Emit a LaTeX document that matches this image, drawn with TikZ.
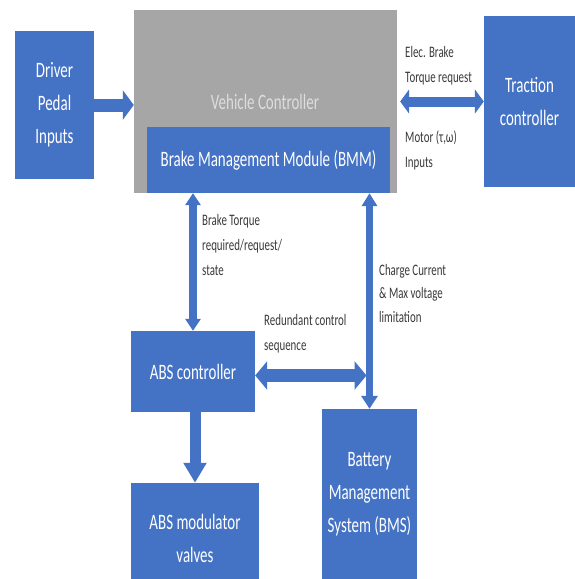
\documentclass[tikz,border=0pt]{standalone}
\usepackage{fontspec}
\setmainfont[FakeStretch=0.68]{Carlito}
\usetikzlibrary{arrows.meta}
\definecolor{boxblue}{HTML}{4472C4}
\definecolor{vcgrey}{HTML}{A6A6A6}
\definecolor{vctext}{HTML}{DDDDDD}
\definecolor{lbl}{HTML}{3A3A3A}
\tikzset{
  bluebox/.style={fill=boxblue, draw=none, text=white, align=center, inner sep=0pt,
    font=\fontsize{22}{33}\selectfont},
  lab/.style={text=lbl, align=left, inner sep=0pt, anchor=west,
    font=\fontsize{16}{25}\selectfont},
  blockarrow/.style={draw=boxblue, line width=#1},
}
\begin{document}
\begin{tikzpicture}[x=1pt,y=-1pt]
\useasboundingbox (0,0) rectangle (575,579);
\fill[white] (0,0) rectangle (575,579);
% boxes
\node[bluebox, minimum width=79pt, minimum height=148pt] (driver) at (54.5,105) {Driver\\Pedal\\Inputs};
\node[fill=vcgrey, draw=none, minimum width=263pt, minimum height=183pt, inner sep=0pt] (vc) at (265.5,101.5) {};
\node[text=vctext, font=\fontsize{22}{24}\selectfont, inner sep=0pt] (vctitle) at (265,102) {Vehicle Controller};
\node[bluebox, minimum width=243pt, minimum height=66pt] (bmm) at (268.5,160) {Brake Management Module (BMM)};
\node[bluebox, minimum width=91pt, minimum height=171pt] (traction) at (529.5,101.5) {Traction\\controller};
\node[bluebox, minimum width=124pt, minimum height=81pt] (abs) at (193,371.5) {ABS controller};
\node[bluebox, minimum width=128pt, minimum height=110pt] (mod) at (195,538) {ABS modulator\\valves};
\node[bluebox, minimum width=95pt, minimum height=170pt] (bms) at (369.5,494) {Battery\\Management\\System (BMS)};
% connectors
\draw[blockarrow=13pt, -{Triangle[length=11pt, width=29pt]}] (driver.east) -- (driver.east -| vc.west);
\draw[blockarrow=10pt, {Triangle[length=9pt, width=24pt]}-{Triangle[length=9pt, width=24pt]}] ([xshift=3pt]vc.east |- traction.west) -- (traction.west);
\draw[blockarrow=8pt, {Triangle[length=12pt, width=15pt]}-{Triangle[length=12pt, width=15pt]}] (abs.north |- bmm.south) -- (abs.north);
\draw[blockarrow=7pt, {Triangle[length=13pt, width=15pt]}-{Triangle[length=13pt, width=16pt]}] (bms.north |- bmm.south) -- (bms.north);
\coordinate (redend) at ([xshift=-3pt]bms.north |- abs.east);
\draw[blockarrow=13pt, {Triangle[length=12pt, width=28pt]}-{Triangle[length=12pt, width=28pt]}] ([yshift=-4pt]abs.east) -- ([yshift=-4pt]redend);
\draw[blockarrow=11pt, -{Triangle[length=20pt, width=22pt]}] (abs.south -| mod.north) -- (mod.north);
% labels
\node[lab] (l1) at (405,66) {Elec. Brake\\Torque request};
\node[lab] (l2) at (405,150) {Motor (τ,ω)\\Inputs};
\node[lab] (l3) at (202,245) {Brake Torque\\required/request/\\state};
\node[lab, font=\fontsize{16}{23.5}\selectfont] (l4) at (379,293) {Charge Current\\\& Max voltage\\limitation};
\node[lab] (l5) at (264,334) {Redundant control\\sequence};
\end{tikzpicture}
\end{document}
